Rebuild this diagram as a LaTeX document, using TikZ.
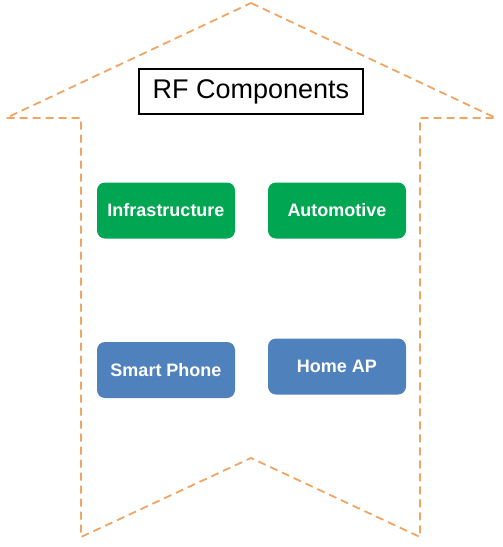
\documentclass[tikz,border=0pt]{standalone}
\usepackage{fontspec}
\setmainfont{Liberation Sans}
\definecolor{arrowor}{RGB}{240,165,100}
\definecolor{boxgreen}{RGB}{0,166,81}
\definecolor{boxblue}{RGB}{79,129,189}
\tikzset{
  outline/.style={draw=arrowor, line width=1.8pt, dash pattern=on 8pt off 5pt},
  catbox/.style={rounded corners=8pt, minimum width=138pt, minimum height=56pt, inner sep=0pt, text=white, font=\fontsize{18}{20}\selectfont\bfseries},
  greenbox/.style={catbox, fill=boxgreen},
  bluebox/.style={catbox, fill=boxblue},
  titlebox/.style={draw=black, line width=2pt, fill=white, minimum width=224pt, minimum height=45pt, inner sep=0pt, font=\fontsize{27}{30}\selectfont}
}
\begin{document}
\begin{tikzpicture}[x=1pt,y=-1pt]
\useasboundingbox (0,0) rectangle (503,547);
\coordinate (apex) at (251,3);
\coordinate (ltip) at (6,118);
\coordinate (lsh) at (81,118);
\coordinate (lbot) at (81,537);
\coordinate (notch) at (251,458);
\coordinate (rbot) at (420,537);
\coordinate (rsh) at (420,118);
\coordinate (rtip) at (496,118);
\draw[outline] (apex) -- (rtip) -- (rsh) -- (rbot) -- (notch) -- (lbot) -- (lsh) -- (ltip) -- cycle;
\node[titlebox] (title) at (251,91.5) {RF Components};
\node[greenbox] (infra) at (166,210.5) {Infrastructure};
\node[greenbox] (auto) at (337,210.5) {Automotive};
\node[bluebox] (phone) at (166,370) {Smart Phone};
\node[bluebox] (home) at (337,366.5) {Home AP};
\end{tikzpicture}
\end{document}
